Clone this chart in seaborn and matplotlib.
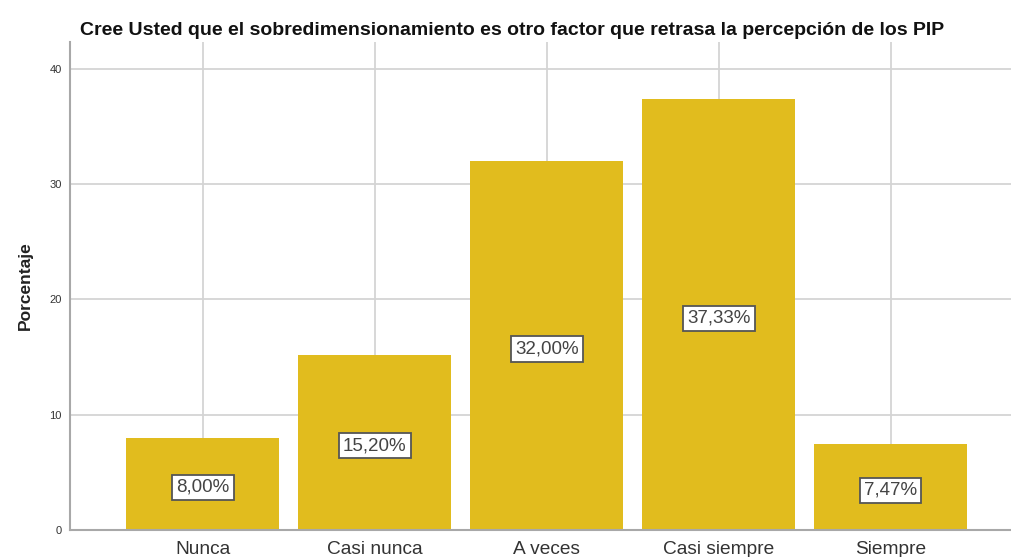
import matplotlib
matplotlib.use("Agg")
import matplotlib.pyplot as plt
import seaborn as sns
import pandas as pd

categorias = ["Nunca", "Casi nunca", "A veces", "Casi siempre", "Siempre"]
porcentajes = [8.00, 15.20, 32.00, 37.33, 7.47]
etiquetas = ["8,00%", "15,20%", "32,00%", "37,33%", "7,47%"]
titulo = "Cree Usted que el sobredimensionamiento es otro factor que retrasa la percepción de los PIP"

sns.set_theme(style="white")
plt.rcParams["font.family"] = ["Liberation Sans", "DejaVu Sans"]

df = pd.DataFrame({"cat": categorias, "pct": porcentajes})

fig = plt.figure(figsize=(10.11, 5.57), dpi=100)
ax = fig.add_axes([0.0692, 0.0485, 0.9308, 0.876])

sns.barplot(data=df, x="cat", y="pct", color="#E1BC1E", saturation=1,
            width=0.89, linewidth=0, ax=ax, zorder=3)

for i, (v, t) in enumerate(zip(porcentajes, etiquetas)):
    ax.text(i, v / 2 - 0.3, t, ha="center", va="center", fontsize=13.5,
            color="#444444", zorder=5,
            bbox=dict(boxstyle="square,pad=0.22", fc="white", ec="#555555", lw=1.3))

ax.set_xlim(-0.773, 4.70)
ax.set_ylim(0, 42.3)
ax.set_yticks([0, 10, 20, 30, 40])
ax.grid(True, axis="both", color="#d4d4d4", lw=1.3, zorder=0)
ax.set_axisbelow(True)

for s in ["top", "right"]:
    ax.spines[s].set_visible(False)
for s in ["left", "bottom"]:
    ax.spines[s].set_color("#a8a8a8")
    ax.spines[s].set_linewidth(1.5)
    ax.spines[s].set_zorder(4)

ax.tick_params(axis="y", labelsize=8, colors="#333333", length=0, pad=6)
ax.tick_params(axis="x", labelsize=13.8, colors="#333333", length=0, pad=8)
ax.set_xlabel("")
ax.set_ylabel("Porcentaje", fontsize=12.5, fontweight="bold", color="#222222", labelpad=12)
ax.set_title(titulo, fontsize=14, fontweight="bold", color="#111111", pad=5, x=0.47)

fig.savefig("out.png", dpi=100)
